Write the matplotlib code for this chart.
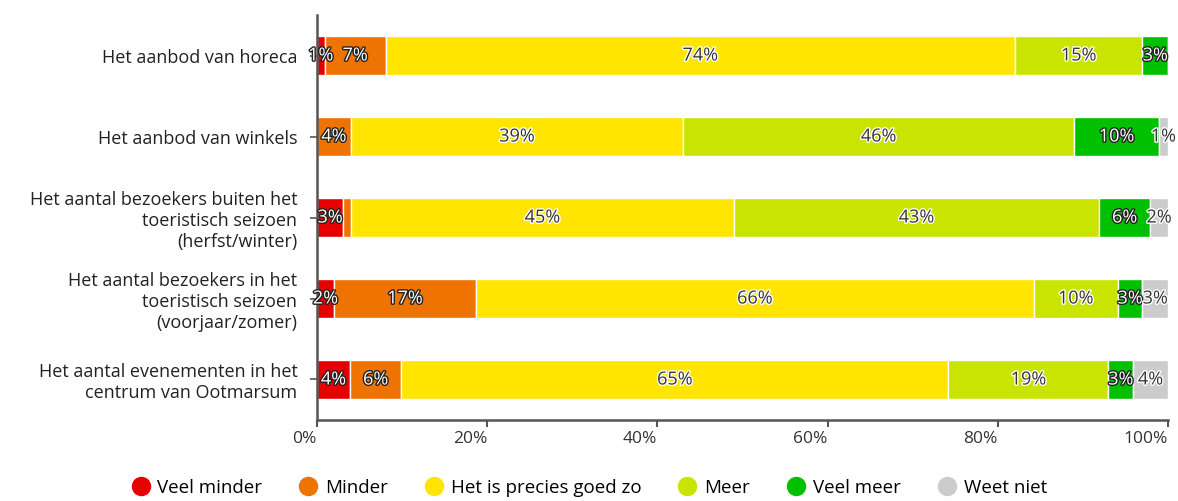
import numpy as np
import matplotlib
matplotlib.use("Agg")
import matplotlib.pyplot as plt
import matplotlib.patheffects as pe
from matplotlib.lines import Line2D

plt.rcParams['font.family'] = ['Open Sans', 'DejaVu Sans']

categories = ["Het aanbod van horeca",
              "Het aanbod van winkels",
              "Het aantal bezoekers buiten het\ntoeristisch seizoen\n(herfst/winter)",
              "Het aantal bezoekers in het\ntoeristisch seizoen\n(voorjaar/zomer)",
              "Het aantal evenementen in het\ncentrum van Ootmarsum"]

series_names = ["Veel minder", "Minder", "Het is precies goed zo", "Meer", "Veel meer", "Weet niet"]
colors = ["#e60000", "#ef7300", "#ffe500", "#c8e400", "#00c000", "#cccccc"]
# text colour of the data labels per series (dark on light bars)
label_dark = [False, False, True, True, False, True]

# one list per answer, one value per category (percent)
veel_minder = [0.9, 0.0, 3.1, 2.0, 3.9]
minder      = [7.2, 4.0, 0.9, 16.7, 6.0]
goed_zo     = [73.9, 39.0, 45.0, 65.5, 64.3]
meer        = [15.0, 46.0, 42.9, 9.9, 18.8]
veel_meer   = [3.0, 9.9, 6.0, 2.9, 2.9]
weet_niet   = [0.0, 1.1, 2.1, 3.0, 4.1]

labels = [["1%", "", "3%", "2%", "4%"],
          ["7%", "4%", "", "17%", "6%"],
          ["74%", "39%", "45%", "66%", "65%"],
          ["15%", "46%", "43%", "10%", "19%"],
          ["3%", "10%", "6%", "3%", "3%"],
          ["", "1%", "2%", "3%", "4%"]]

data = [veel_minder, minder, goed_zo, meer, veel_meer, weet_niet]

fig = plt.figure(figsize=(11.78, 5.01), dpi=100)
ax = fig.add_axes([0.269, 0.1617, 0.7225, 0.8083])

y = np.arange(len(categories))
left = np.zeros(len(categories))
for i, vals in enumerate(data):
    vals = np.array(vals)
    ax.barh(y, vals, left=left, height=0.47, color=colors[i],
            edgecolor="white", linewidth=1)
    for j in range(len(categories)):
        if labels[i][j] == "":
            continue
        cx = left[j] + vals[j] / 2
        if label_dark[i]:
            ax.text(cx, y[j], labels[i][j], ha="center", va="center",
                    fontsize=13, color="#333333",
                    path_effects=[pe.withStroke(linewidth=2, foreground="white")])
        else:
            ax.text(cx, y[j], labels[i][j], ha="center", va="center",
                    fontsize=13, color="white",
                    path_effects=[pe.withStroke(linewidth=2, foreground="#222222")])
    left = left + vals

ax.set_xlim(0, 100)
ax.set_ylim(len(categories) - 0.5, -0.5)
ax.set_yticks(y)
ax.set_yticklabels(categories, fontsize=13, color="#222222", linespacing=1.2)
ax.set_xticks(np.arange(0, 101, 20))
ax.set_xticklabels([str(v) + "%" for v in range(0, 101, 20)], fontsize=12.5,
                   color="#333333", ha="right")

for s in ["top", "right"]:
    ax.spines[s].set_visible(False)
for s in ["left", "bottom"]:
    ax.spines[s].set_color("#555555")
    ax.spines[s].set_linewidth(1.8)
ax.tick_params(axis="x", length=5, width=1.5, color="#555555", pad=3)
ax.tick_params(axis="y", length=5, width=1.2, color="#555555", pad=9)

handles = [Line2D([], [], marker="o", linestyle="", markersize=13,
                  markerfacecolor=c, markeredgecolor=c) for c in colors]
fig.legend(handles, series_names, loc="center", ncol=6, frameon=False,
           fontsize=13.5, handlelength=1, handletextpad=0.4, columnspacing=1.95,
           bbox_to_anchor=(0.5, 0.026))

fig.savefig("out.png", dpi=100)
